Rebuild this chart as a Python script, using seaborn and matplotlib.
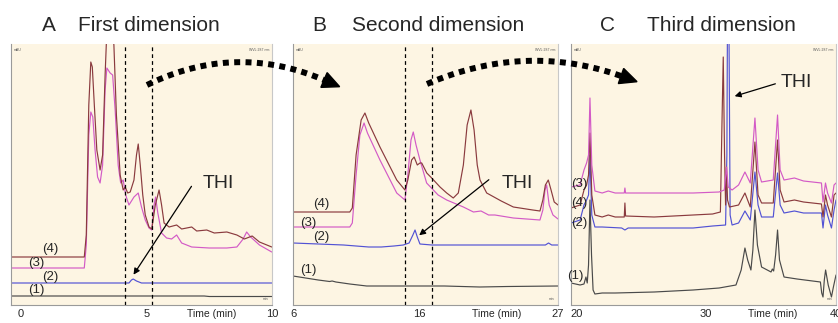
import numpy as np
import pandas as pd
import seaborn as sns
import matplotlib.pyplot as plt
from matplotlib.lines import Line2D
from matplotlib.patches import Polygon, FancyArrowPatch
from matplotlib.ticker import MultipleLocator

# ---- chromatogram traces (signal in arbitrary mAU) ----
# Panel A - first dimension
a1_t = [-0.4, 7.3, 7.5, 10.0]
a1_y = [9, 9, 8.5, 8.5]
a2_t = [-0.4, 4.3, 4.4, 4.47, 4.6, 4.8, 10.0]
a2_y = [22, 22, 25, 26, 24, 22, 22]
a3_t = [-0.4, 2.52, 2.6, 2.7, 2.78, 2.86, 2.95, 3.05, 3.15, 3.25, 3.35, 3.42, 3.55, 3.65,
        3.75, 3.87, 3.97, 4.07, 4.17, 4.3, 4.5, 4.67, 4.8, 4.95, 5.1, 5.21, 5.3, 5.36,
        5.45, 5.6, 5.8, 6.0, 6.2, 6.4, 6.8, 7.5, 8.2, 8.6, 8.85, 8.99, 9.15, 9.5, 9.99]
a3_y = [37, 37, 60, 170, 193, 188, 155, 128, 122, 140, 215, 237, 232, 230,
        195, 140, 122, 125, 110, 100, 108, 112, 98, 85, 77, 75, 100, 108,
        92, 72, 67, 66, 70, 62, 58, 57, 57, 58, 66, 73, 68, 60, 53]
a4_t = [-0.4, 2.52, 2.6, 2.7, 2.78, 2.84, 2.92, 3.02, 3.15, 3.25, 3.35, 3.42, 3.6, 3.7,
        3.8, 3.95, 4.07, 4.15, 4.25, 4.35, 4.5, 4.6, 4.67, 4.75, 4.85, 4.95, 5.1, 5.21,
        5.35, 5.5, 5.6, 5.7, 5.9, 6.2, 6.4, 6.8, 7.0, 7.4, 7.7, 8.2, 8.6, 8.9, 9.21,
        9.5, 9.99]
a4_y = [48, 48, 70, 200, 243, 238, 200, 155, 135, 150, 230, 275, 285, 260,
        190, 130, 115, 118, 112, 113, 125, 150, 161, 140, 110, 90, 78, 76,
        100, 115, 100, 82, 78, 80, 76, 78, 74, 75, 72, 73, 70, 66, 69,
        63, 58]

# Panel B - second dimension
b1_t = [6.0, 7.0, 8.0, 8.9, 9.1, 9.4, 10.5, 11.84, 15.0, 18.0, 20.8, 23.0, 27.0]
b1_y = [29, 27, 25, 23.5, 24, 23, 21, 19, 19, 19, 18, 18.5, 19]
b2_t = [6.0, 8.0, 10.0, 12.0, 13.0, 14.0, 14.74, 15.2, 15.5, 15.67, 15.85, 16.06, 17.0,
        20.0, 24.0, 26.0, 26.25, 26.5, 27.0]
b2_y = [62, 61, 60, 58, 58, 59, 60, 62, 70, 75, 68, 61, 60,
        60, 60, 60, 62, 60, 60]
b3_t = [6.0, 10.5, 10.7, 11.0, 11.3, 11.63, 11.9, 12.89, 14.22, 14.87, 15.1, 15.35, 15.53,
        15.75, 16.06, 16.59, 17.5, 18.18, 19.5, 20.3, 20.9, 21.5, 22.0, 23.46, 25.57,
        25.8, 25.97, 26.1, 26.3, 26.6, 27.0]
b3_y = [78, 78, 82, 130, 170, 182, 172, 145, 112, 105, 130, 165, 173,
        160, 145, 122, 110, 105, 98, 93, 94, 90, 90, 87, 85,
        95, 115, 120, 100, 90, 86]
b4_t = [6.0, 10.5, 10.7, 11.0, 11.4, 11.7, 12.0, 12.89, 14.22, 14.87, 15.1, 15.4, 15.6,
        15.85, 16.06, 16.2, 16.6, 16.99, 17.65, 18.18, 18.7, 19.1, 19.5, 19.8, 20.1,
        20.35, 20.6, 20.82, 21.35, 22.5, 23.46, 25.0, 25.57, 25.8, 26.0, 26.23, 26.45,
        26.7, 27.0]
b4_y = [93, 93, 97, 150, 185, 192, 182, 158, 125, 115, 125, 145, 148,
        140, 142, 142, 132, 127, 118, 112, 107, 112, 140, 180, 195,
        175, 140, 125, 112, 104, 98, 95, 94, 105, 120, 125, 115,
        103, 100]

# Panel C - third dimension
c1_t = [19.6, 20.3, 20.6, 20.75, 20.85, 20.95, 21.06, 21.18, 21.3, 21.44, 22.0, 23.0,
        26.0, 29.0, 31.0, 32.3, 32.7, 32.99, 33.2, 33.45, 33.6, 33.76, 33.95, 34.27,
        35.0, 35.1, 35.2, 35.35, 35.5, 35.65, 36.0, 37.0, 38.8, 38.9, 39.0, 39.1,
        39.2, 39.4, 39.65, 39.8, 40.0]
c1_y = [22, 20, 21, 28, 22, 40, 105, 50, 15, 11, 12, 12,
        13, 15, 17, 20, 35, 57, 45, 35, 55, 95, 60, 38,
        33, 36, 34, 50, 75, 45, 28, 26, 23, 12, 8, 25,
        35, 20, 8, 18, 30]
c2_t = [19.6, 20.3, 20.6, 20.8, 20.95, 21.06, 21.2, 21.44, 22.0, 23.5, 23.75, 24.0,
        26.0, 29.0, 30.5, 31.5, 31.6, 31.65, 31.75, 31.85, 32.0, 32.5, 32.99, 33.4,
        33.76, 34.0, 34.27, 35.17, 35.5, 35.7, 36.0, 36.8, 37.5, 38.88, 39.0, 39.19,
        39.35, 39.65, 39.85, 40.0]
c2_y = [82, 85, 100, 105, 110, 150, 90, 78, 78, 77, 75, 77,
        77, 77, 79, 80, 150, 300, 300, 90, 80, 82, 94, 85,
        133, 100, 88, 88, 132, 100, 92, 94, 92, 92, 77, 100,
        90, 77, 95, 105]
c3_t = [19.6, 20.3, 20.6, 20.8, 20.95, 21.06, 21.2, 21.44, 22.0, 22.47, 23.0, 23.7,
        23.75, 23.8, 26.0, 29.0, 31.0, 31.4, 31.57, 31.7, 32.0, 32.5, 32.99, 33.4,
        33.76, 34.0, 34.27, 35.17, 35.5, 35.7, 36.0, 36.8, 37.5, 38.88, 39.0, 39.19,
        39.35, 39.65, 39.85, 40.0]
c3_y = [118, 120, 135, 142, 150, 207, 140, 114, 112, 114, 112, 112,
        117, 112, 112, 112, 113, 115, 138, 118, 115, 120, 133, 122,
        187, 135, 123, 125, 190, 135, 125, 127, 124, 122, 103, 122,
        112, 102, 120, 122]
c4_t = [19.6, 20.3, 20.6, 20.8, 20.95, 21.06, 21.2, 21.44, 22.0, 22.47, 23.0, 23.7,
        23.75, 23.8, 26.0, 29.0, 30.5, 31.1, 31.22, 31.32, 31.42, 31.5, 31.57, 31.65,
        31.8, 32.5, 32.99, 33.4, 33.76, 34.0, 34.27, 35.17, 35.5, 35.7, 36.0, 36.8,
        37.5, 38.88, 39.0, 39.19, 39.35, 39.65, 39.85, 40.0]
c4_y = [97, 100, 115, 120, 130, 172, 110, 90, 88, 90, 88, 88,
        102, 89, 88, 90, 91, 93, 180, 248, 150, 100, 138, 105,
        98, 100, 112, 98, 163, 110, 102, 102, 165, 115, 103, 105,
        103, 101, 88, 110, 100, 88, 110, 112]

# window cuts (dashed lines) and axis ticks
cuts_a = [4.14, 5.22]
cuts_b = [14.87, 17.0]
ticks_a = [0, 5, 10]
ticks_b = [6, 16, 27]
ticks_c = [20, 30, 40]

colors = {"(1)": "#4a4a4a", "(2)": "#5252d4", "(3)": "#d35ac6", "(4)": "#8a3a3e"}

W, H = 838, 323
sns.set_style("white")
plt.rcParams["font.family"] = ["Liberation Sans", "DejaVu Sans"]

fig = plt.figure(figsize=(W / 100, H / 100), dpi=100)


def fx(x):
    return x / W


def fy(y):
    return 1 - y / H


def make_df(traces):
    rows = []
    for name, (t, y) in traces.items():
        for ti, yi in zip(t, y):
            rows.append({"time": ti, "signal": yi, "trace": name})
    return pd.DataFrame(rows)


panels = [
    dict(left=11, right=272, xlim=(-0.4, 10.0), ticks=ticks_a, cuts=cuts_a, minor=0.5,
         traces={"(1)": (a1_t, a1_y), "(2)": (a2_t, a2_y),
                 "(3)": (a3_t, a3_y), "(4)": (a4_t, a4_y)},
         time_x=0.77),
    dict(left=293, right=558, xlim=(6.0, 27.0), ticks=ticks_b, cuts=cuts_b, minor=1,
         traces={"(1)": (b1_t, b1_y), "(2)": (b2_t, b2_y),
                 "(3)": (b3_t, b3_y), "(4)": (b4_t, b4_y)},
         time_x=0.77),
    dict(left=571, right=836, xlim=(19.6, 40.0), ticks=ticks_c, cuts=[], minor=1,
         traces={"(1)": (c1_t, c1_y), "(2)": (c2_t, c2_y),
                 "(4)": (c4_t, c4_y), "(3)": (c3_t, c3_y)},
         time_x=0.76),
]

top, bottom = 44, 305
for p in panels:
    ax = fig.add_axes([fx(p["left"]), fy(bottom), (p["right"] - p["left"]) / W,
                       (bottom - top) / H])
    ax.set_facecolor("#fdf5e3")
    df = make_df(p["traces"])
    sns.lineplot(data=df, x="time", y="signal", hue="trace", palette=colors,
                 estimator=None, sort=False, legend=False, linewidth=0.85, ax=ax)
    for c in p["cuts"]:
        ax.axvline(c, color="black", lw=0.9, ls=(0, (3, 2.5)))
    ax.set_xlim(*p["xlim"])
    ax.set_ylim(0, 261)
    ax.set_xlabel("")
    ax.set_ylabel("")
    ax.set_yticks([])
    ax.set_xticks(p["ticks"])
    ax.set_xticklabels([str(t) for t in p["ticks"]], fontsize=8)
    ax.xaxis.set_minor_locator(MultipleLocator(p["minor"]))
    ax.tick_params(axis="x", which="major", length=2, width=0.6, color="#888888", pad=1)
    ax.tick_params(axis="x", which="minor", length=1.5, width=0.5, color="#888888")
    for s in ["left", "bottom", "right"]:
        ax.spines[s].set_color("#9a9a9a")
        ax.spines[s].set_linewidth(0.8)
    ax.spines["right"].set_color("#c8c8c8")
    ax.spines["top"].set_visible(False)
    ax.text(p["time_x"], -0.016, "Time (min)", transform=ax.transAxes, fontsize=7.5,
            ha="center", va="top")
    ax.text(0.01, 0.985, "mAU", transform=ax.transAxes, fontsize=2.5, va="top",
            color="#555555")
    ax.text(0.99, 0.985, "WVL:287 nm", transform=ax.transAxes, fontsize=2.5, va="top",
            ha="right", color="#555555")
    ax.text(0.985, 0.02, "min", transform=ax.transAxes, fontsize=2.5, ha="right",
            color="#555555")

# panel titles
for letter, lx, title, tx in [("A", 42, "First dimension", 78),
                              ("B", 312, "Second dimension", 352),
                              ("C", 600, "Third dimension", 647)]:
    fig.text(fx(lx), fy(31), letter, fontsize=15, va="baseline")
    fig.text(fx(tx), fy(31), title, fontsize=15, va="baseline")

# trace number labels
num_labels = [("(4)", 42, 249), ("(3)", 28, 263), ("(2)", 42, 277), ("(1)", 28, 290),
              ("(4)", 313, 204), ("(3)", 300, 223), ("(2)", 313, 237), ("(1)", 300, 270),
              ("(3)", 571, 184), ("(4)", 571, 203), ("(2)", 571, 223), ("(1)", 567, 276)]
for s, x, y in num_labels:
    fig.text(fx(x), fy(y), s, fontsize=9.5, va="center")

# THI arrows
for tx, ty, x0, y0, x1, y1 in [(203, 183, 193, 184, 132, 277),
                               (502, 183, 491, 178, 417, 237),
                               (781, 82, 778, 83, 732, 97)]:
    fig.text(fx(tx), fy(ty), "THI", fontsize=14, va="center")
    fig.add_artist(FancyArrowPatch(
        (fx(x0), fy(y0)), (fx(x1), fy(y1)), transform=fig.transFigure,
        arrowstyle="-|>", mutation_scale=9, lw=0.9, color="black"))


# big dotted transfer arrows
def dotted_arc(p0, p1, p2):
    p0, p1, p2 = map(np.array, (p0, p1, p2))
    s = np.linspace(0, 1, 80)[:, None]
    pts = (1 - s) ** 2 * p0 + 2 * (1 - s) * s * p1 + s ** 2 * p2
    fig.add_artist(Line2D(fx(pts[:, 0]), fy(pts[:, 1]), transform=fig.transFigure,
                          color="black", lw=4.3, ls=(0, (1, 0.9)),
                          dash_capstyle="butt"))
    d = p2 - p1
    d = d / np.hypot(*d)
    n = np.array([-d[1], d[0]])
    tri = [p2 + 17 * d, p2 + 8 * n, p2 - 8 * n]
    fig.add_artist(Polygon([(fx(x), fy(y)) for x, y in tri], closed=True,
                           transform=fig.transFigure, color="black"))


dotted_arc((147, 85), (235, 42), (324, 80))
dotted_arc((427, 84), (525, 42), (621, 76))

fig.savefig("out.png", dpi=100)
